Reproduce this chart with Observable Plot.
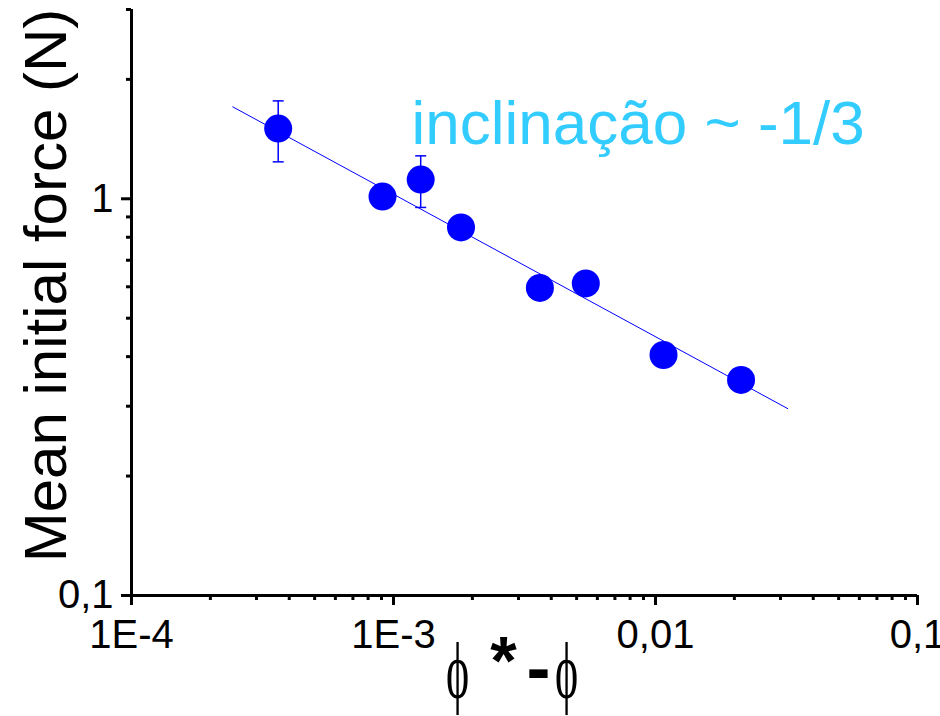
<!DOCTYPE html>
<html><head><meta charset="utf-8">
<script src="https://cdn.jsdelivr.net/npm/d3@7"></script>
<script src="https://cdn.jsdelivr.net/npm/@observablehq/plot@0.6"></script>
<style>body{margin:0;background:#fff} #chart{width:940px;height:716px}</style>
</head><body><div id="chart"></div>
<script>
// data
const phiValues = [3.63e-4, 9.08e-4, 1.27e-3, 1.81e-3, 3.62e-3, 5.42e-3, 0.01073, 0.02121];
const forceValues = [1.503, 1.013, 1.118, 0.847, 0.596, 0.612, 0.4038, 0.3494];
const errPhi = [3.63e-4, 1.27e-3];
const errLow = [1.239, 0.951];
const errHigh = [1.765, 1.283];
const fitPhi = [2.435e-4, 0.03198];
const fitForce = [1.705, 0.2958];
const xMajorTicks = [1e-4, 1e-3, 1e-2, 1e-1];
const xTickLabels = ["1E-4", "1E-3", "0,01", "0,1"];
const xMinorTicks = [2,3,4,5,6,7,8,9].flatMap(m => [m*1e-4, m*1e-3, m*1e-2]);
const yMajorTicks = [0.1, 1];
const yTickLabels = ["0,1", "1"];
const yMinorTicks = [0.2,0.3,0.4,0.5,0.6,0.7,0.8,0.9,2,3];
const yLabel = "Mean initial force (N)";
const annotation = "inclinação ~ -1/3";
const xLabelParts = ["ϕ", "*", "-", "ϕ"];

const points = phiValues.map((p, i) => ({phi: p, force: forceValues[i]}));
const errs = errPhi.map((p, i) => ({phi: p, low: errLow[i], high: errHigh[i]}));
const fit = fitPhi.map((p, i) => ({phi: p, force: fitForce[i]}));
const cap = {draw(ctx) { ctx.moveTo(-5.5, 0); ctx.lineTo(5.5, 0); }};

const font = "Liberation Sans, Arial, sans-serif";
const plot = Plot.plot({
  width: 940, height: 716,
  marginLeft: 131, marginRight: 23, marginTop: 9, marginBottom: 121,
  style: {fontFamily: font, background: "#fff"},
  x: {type: "log", domain: [1e-4, 0.1]},
  y: {type: "log", domain: [0.1, 3]},
  marks: [
    Plot.line(fit, {x: "phi", y: "force", stroke: "#0000ff", strokeWidth: 1}),
    Plot.ruleX(errs, {x: "phi", y1: "low", y2: "high", stroke: "#0000ff", strokeWidth: 1.5}),
    Plot.dot(errs, {x: "phi", y: "low", symbol: cap, stroke: "#0000ff", strokeWidth: 1.5, fill: "none"}),
    Plot.dot(errs, {x: "phi", y: "high", symbol: cap, stroke: "#0000ff", strokeWidth: 1.5, fill: "none"}),
    Plot.dot(points, {x: "phi", y: "force", r: 14, fill: "#0000ff", stroke: "none"}),
    Plot.axisX(xMinorTicks, {tickSize: 5, strokeWidth: 3, text: null, label: null}),
    Plot.axisX(xMajorTicks, {tickSize: 10, tickPadding: 14, strokeWidth: 3, fontSize: 40, fill: "#000",
      tickFormat: (d) => xTickLabels[xMajorTicks.indexOf(d)], label: null}),
    Plot.axisY(yMinorTicks, {tickSize: 5, strokeWidth: 3, text: null, label: null}),
    Plot.axisY(yMajorTicks, {tickSize: 10, tickPadding: 8, strokeWidth: 3, fontSize: 40, fill: "#000",
      tickFormat: (d) => yTickLabels[yMajorTicks.indexOf(d)], label: null}),
    Plot.ruleY([0.1], {strokeWidth: 3, stroke: "#000"}),
    Plot.ruleX([1e-4], {strokeWidth: 3, stroke: "#000"}),
    Plot.text([yLabel], {text: d => d, frameAnchor: "left", rotate: -90, dx: -66, dy: -17,
      fontSize: 60, textAnchor: "middle", lineAnchor: "bottom", fill: "#000"}),
    Plot.text([annotation], {text: d => d, frameAnchor: "top-left", dx: 280, dy: 134,
      fontSize: 62, textAnchor: "start", lineAnchor: "bottom", fill: "#33ccff"}),
    Plot.text([xLabelParts[0]], {text: d => d, frameAnchor: "bottom-left", dx: 326, dy: 102, className: "phi",
      fontSize: 80, fontFamily: "Liberation Serif, serif", textAnchor: "middle", lineAnchor: "bottom", fill: "#000"}),
    Plot.text([xLabelParts[1]], {text: d => d, frameAnchor: "bottom-left", dx: 372, dy: 88,
      fontSize: 68, fontWeight: "bold", textAnchor: "middle", lineAnchor: "bottom", fill: "#000"}),
    Plot.text([xLabelParts[2]], {text: d => d, frameAnchor: "bottom-left", dx: 407, dy: 96,
      fontSize: 72, fontWeight: "bold", textAnchor: "middle", lineAnchor: "bottom", fill: "#000"}),
    Plot.text([xLabelParts[3]], {text: d => d, frameAnchor: "bottom-left", dx: 435, dy: 102, className: "phi",
      fontSize: 80, fontFamily: "Liberation Serif, serif", textAnchor: "middle", lineAnchor: "bottom", fill: "#000"})
  ]
});
document.getElementById("chart").appendChild(plot);
// narrow the phi glyphs horizontally around their own centre
d3.select(plot).selectAll("g.phi text").each(function() {
  const b = this.getBBox();
  const cx = b.x + b.width / 2;
  const t = this.getAttribute("transform") || "";
  this.setAttribute("transform", `${t} translate(${cx},0) scale(0.55,1) translate(${-cx},0)`);
});
</script></body></html>
